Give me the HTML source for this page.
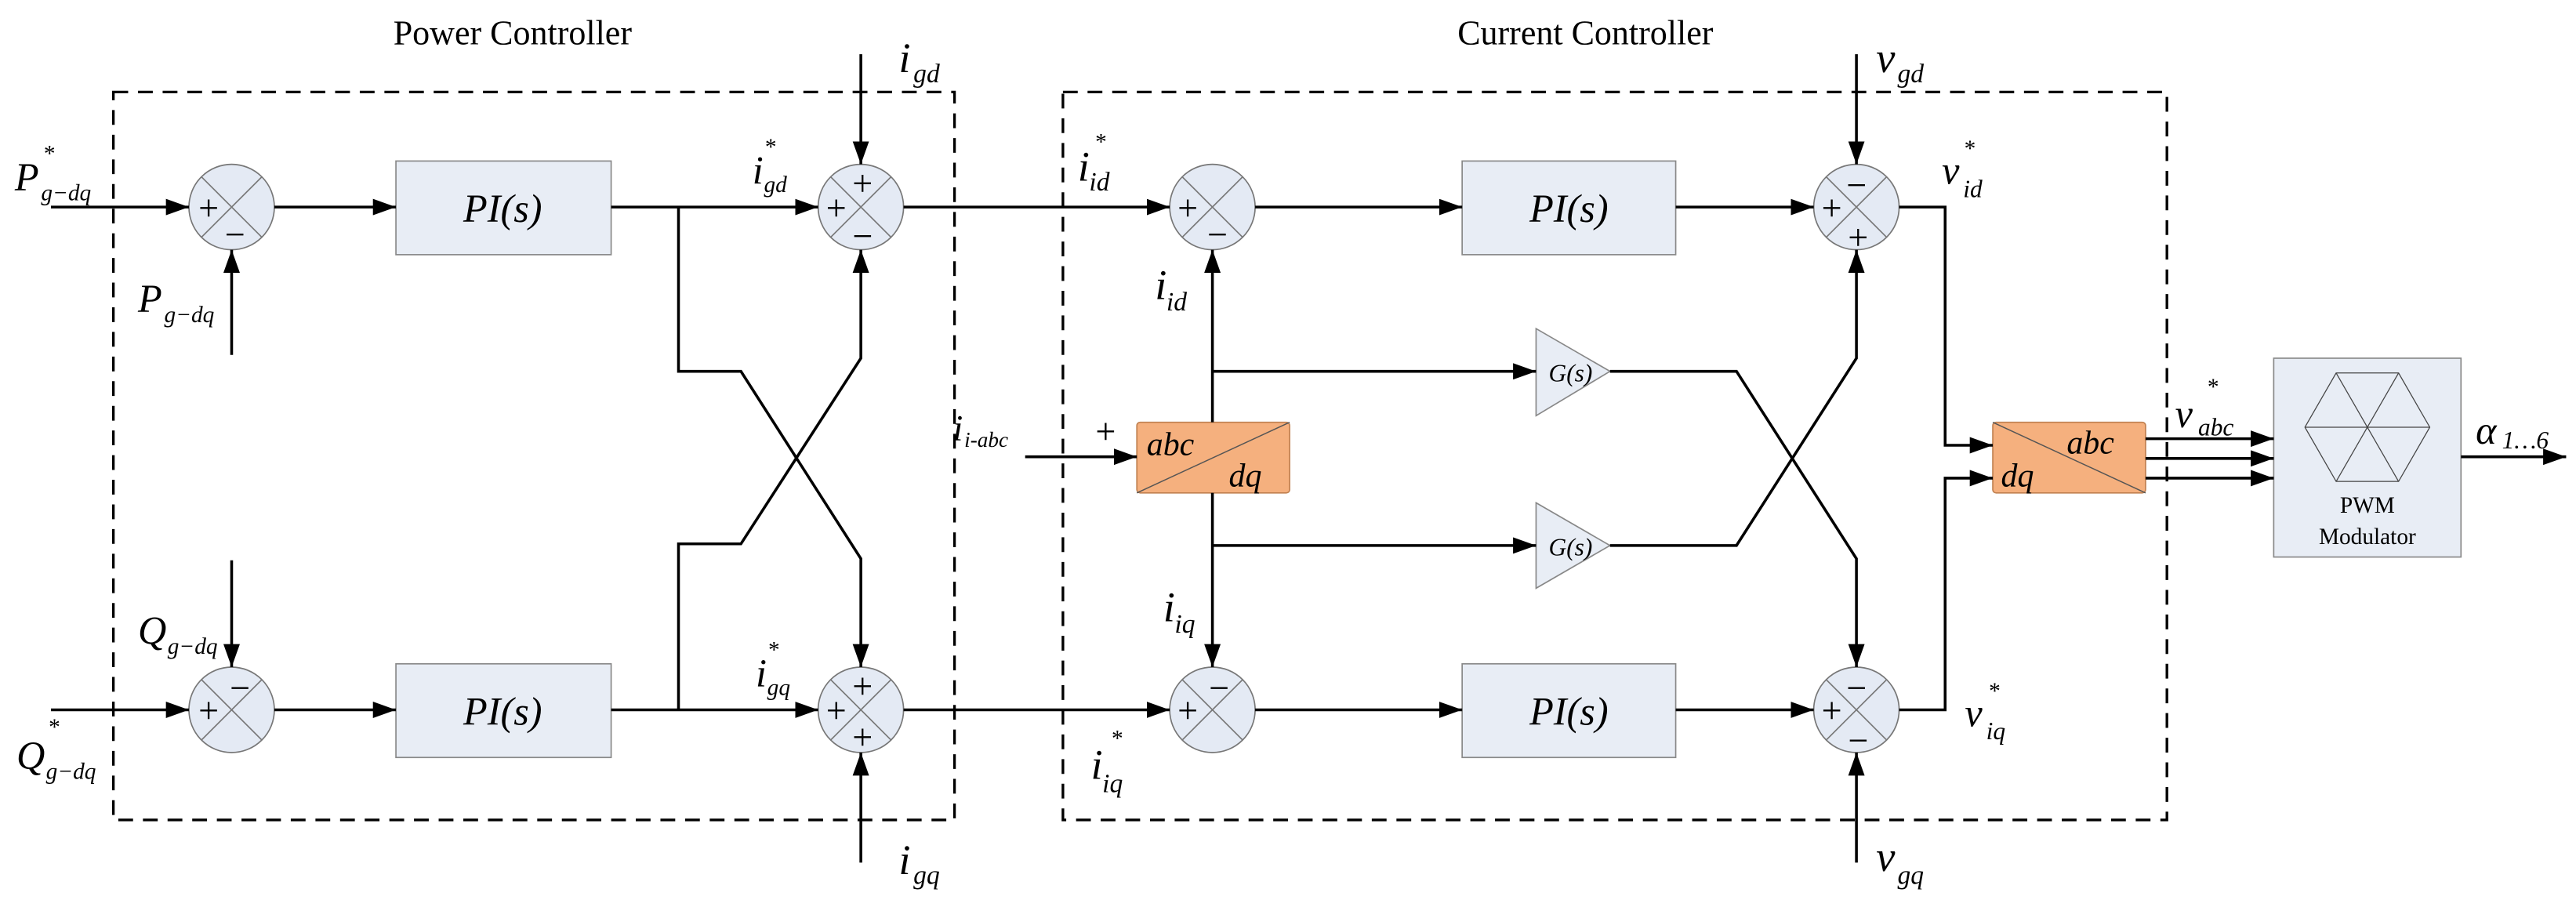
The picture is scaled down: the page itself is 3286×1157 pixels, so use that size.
<!DOCTYPE html>
<html><head><meta charset="utf-8"><style>
html,body{margin:0;padding:0;background:#fff;}
svg{display:block;}
text{font-family:"Liberation Serif",serif;fill:#000;}
.it{font-style:italic;}
</style></head><body>
<svg width="3286" height="1157" viewBox="0 0 1568 552" preserveAspectRatio="none" xmlns="http://www.w3.org/2000/svg">
<defs>
<marker id="a" markerWidth="14" markerHeight="10" refX="14" refY="5" orient="auto" markerUnits="userSpaceOnUse">
<path d="M0,0 L14,5 L0,10 Z" fill="#000"/></marker>
<g id="sum">
<circle r="26" fill="#e4eaf4" stroke="#777" stroke-width="0.8"/>
<line x1="-18.4" y1="-18.4" x2="18.4" y2="18.4" stroke="#777" stroke-width="0.8"/>
<line x1="-18.4" y1="18.4" x2="18.4" y2="-18.4" stroke="#777" stroke-width="0.8"/>
</g>
</defs>
<g fill="none" stroke="#000" stroke-width="1.6" stroke-dasharray="9,6">
<rect x="69" y="56" width="512" height="443"/>
<rect x="647" y="56" width="672" height="443"/>
</g>
<text x="312" y="27" font-size="21" text-anchor="middle">Power Controller</text>
<text x="965" y="27" font-size="21" text-anchor="middle">Current Controller</text>

<g fill="#e8edf5" stroke="#888" stroke-width="0.8">
<rect x="241" y="98" width="131" height="57"/>
<rect x="241" y="404" width="131" height="57"/>
<rect x="890" y="98" width="130" height="57"/>
<rect x="890" y="404" width="130" height="57"/>
<rect x="1384" y="218" width="114" height="121"/>
<path d="M935,200 L980,226 L935,253 Z"/>
<path d="M935,306 L980,332 L935,358 Z"/>
</g>
<g font-size="24" class="it" text-anchor="middle">
<text x="306" y="135" class="it">PI(s)</text>
<text x="306" y="441" class="it">PI(s)</text>
<text x="955" y="135" class="it">PI(s)</text>
<text x="955" y="441" class="it">PI(s)</text>
</g>
<text x="956" y="232" font-size="15" class="it" text-anchor="middle">G(s)</text>
<text x="956" y="338" font-size="15" class="it" text-anchor="middle">G(s)</text>

<g fill="#f5b07e" stroke="#c08050" stroke-width="0.8">
<rect x="692" y="257" width="93" height="43" rx="2"/>
<rect x="1213" y="257" width="93" height="43" rx="2"/>
</g>
<line x1="692" y1="300" x2="785" y2="257" stroke="#555" stroke-width="0.7"/>
<line x1="1213" y1="257" x2="1306" y2="300" stroke="#555" stroke-width="0.7"/>
<text x="698" y="277" font-size="20" class="it">abc</text>
<text x="748" y="296" font-size="20" class="it">dq</text>
<text x="1258" y="276" font-size="20" class="it">abc</text>
<text x="1218" y="296" font-size="20" class="it">dq</text>

<g stroke="#444" stroke-width="0.6" fill="none">
<path d="M1403,260 L1422,227 L1460,227 L1479,260 L1460,293 L1422,293 Z"/>
<line x1="1403" y1="260" x2="1479" y2="260"/>
<line x1="1422" y1="227" x2="1460" y2="293"/>
<line x1="1460" y1="227" x2="1422" y2="293"/>
</g>
<text x="1441" y="312" font-size="14" text-anchor="middle">PWM</text>
<text x="1441" y="331" font-size="14" text-anchor="middle">Modulator</text>

<use href="#sum" x="141" y="126"/>
<use href="#sum" x="141" y="432"/>
<use href="#sum" x="524" y="126"/>
<use href="#sum" x="524" y="432"/>
<use href="#sum" x="738" y="126"/>
<use href="#sum" x="738" y="432"/>
<use href="#sum" x="1130" y="126"/>
<use href="#sum" x="1130" y="432"/>
<g font-size="22" text-anchor="middle" font-family="Liberation Sans">
<text x="127" y="134">+</text><text x="143" y="150">−</text>
<text x="127" y="440">+</text><text x="146" y="426">−</text>
<text x="509" y="134">+</text><text x="525" y="119">+</text><text x="525" y="151">−</text>
<text x="509" y="440">+</text><text x="525" y="425">+</text><text x="525" y="456">+</text>
<text x="723" y="134">+</text><text x="741" y="150">−</text>
<text x="723" y="440">+</text><text x="742" y="426">−</text>
<text x="1115" y="134">+</text><text x="1130" y="120">−</text><text x="1131" y="152">+</text>
<text x="1115" y="440">+</text><text x="1130" y="426">−</text><text x="1131" y="458">−</text>
<text x="673" y="270">+</text>
</g>

<g stroke="#000" stroke-width="1.7" fill="none">
<line x1="31" y1="126" x2="115" y2="126" marker-end="url(#a)"/>
<line x1="167" y1="126" x2="241" y2="126" marker-end="url(#a)"/>
<line x1="141" y1="216" x2="141" y2="152" marker-end="url(#a)"/>
<line x1="31" y1="432" x2="115" y2="432" marker-end="url(#a)"/>
<line x1="167" y1="432" x2="241" y2="432" marker-end="url(#a)"/>
<line x1="141" y1="341" x2="141" y2="406" marker-end="url(#a)"/>
<line x1="372" y1="126" x2="498" y2="126" marker-end="url(#a)"/>
<line x1="372" y1="432" x2="498" y2="432" marker-end="url(#a)"/>
<polyline points="413,126 413,226 451,226 524,340 524,406" marker-end="url(#a)"/>
<polyline points="413,432 413,331 451,331 524,218 524,152" marker-end="url(#a)"/>
<line x1="524" y1="33" x2="524" y2="100" marker-end="url(#a)"/>
<line x1="524" y1="525" x2="524" y2="458" marker-end="url(#a)"/>
<line x1="550" y1="126" x2="712" y2="126" marker-end="url(#a)"/>
<line x1="550" y1="432" x2="712" y2="432" marker-end="url(#a)"/>
<line x1="764" y1="126" x2="890" y2="126" marker-end="url(#a)"/>
<line x1="764" y1="432" x2="890" y2="432" marker-end="url(#a)"/>
<line x1="1020" y1="126" x2="1104" y2="126" marker-end="url(#a)"/>
<line x1="1020" y1="432" x2="1104" y2="432" marker-end="url(#a)"/>
<line x1="624" y1="278" x2="692" y2="278" marker-end="url(#a)"/>
<line x1="738" y1="257" x2="738" y2="152" marker-end="url(#a)"/>
<line x1="738" y1="300" x2="738" y2="406" marker-end="url(#a)"/>
<line x1="738" y1="226" x2="935" y2="226" marker-end="url(#a)"/>
<line x1="738" y1="332" x2="935" y2="332" marker-end="url(#a)"/>
<polyline points="980,226 1057,226 1130,340 1130,406" marker-end="url(#a)"/>
<polyline points="980,332 1057,332 1130,218 1130,152" marker-end="url(#a)"/>
<line x1="1130" y1="33" x2="1130" y2="100" marker-end="url(#a)"/>
<line x1="1130" y1="525" x2="1130" y2="458" marker-end="url(#a)"/>
<polyline points="1156,126 1184,126 1184,271 1213,271" marker-end="url(#a)"/>
<polyline points="1156,432 1184,432 1184,291 1213,291" marker-end="url(#a)"/>
<line x1="1306" y1="267" x2="1384" y2="267" marker-end="url(#a)"/>
<line x1="1306" y1="279" x2="1384" y2="279" marker-end="url(#a)"/>
<line x1="1306" y1="291" x2="1384" y2="291" marker-end="url(#a)"/>
<line x1="1498" y1="278" x2="1562" y2="278" marker-end="url(#a)"/>
</g>

<g class="it">
<text x="9" y="116" font-size="24" class="it">P</text><text x="25" y="122" font-size="14" class="it">g−dq</text><text x="26" y="98" font-size="14">*</text>
<text x="84" y="190" font-size="24" class="it">P</text><text x="100" y="196" font-size="14" class="it">g−dq</text>
<text x="84" y="392" font-size="24" class="it">Q</text><text x="102" y="398" font-size="14" class="it">g−dq</text>
<text x="10" y="468" font-size="24" class="it">Q</text><text x="28" y="474" font-size="14" class="it">g−dq</text><text x="29" y="447" font-size="14">*</text>
<text x="458" y="112" font-size="24" class="it">i</text><text x="465" y="117" font-size="14" class="it">gd</text><text x="465" y="94" font-size="14">*</text>
<text x="460" y="418" font-size="24" class="it">i</text><text x="467" y="423" font-size="14" class="it">gq</text><text x="467" y="400" font-size="14">*</text>
<text x="547" y="44" font-size="26" class="it">i</text><text x="556" y="50" font-size="16" class="it">gd</text>
<text x="547" y="532" font-size="26" class="it">i</text><text x="556" y="538" font-size="16" class="it">gq</text>
<text x="580" y="268" font-size="22" class="it">i</text><text x="587" y="272" font-size="13" class="it">i-abc</text>
<text x="656" y="110" font-size="26" class="it">i</text><text x="663" y="116" font-size="16" class="it">id</text><text x="666" y="91" font-size="14">*</text>
<text x="703" y="182" font-size="26" class="it">i</text><text x="710" y="189" font-size="16" class="it">id</text>
<text x="708" y="378" font-size="26" class="it">i</text><text x="715" y="385" font-size="16" class="it">iq</text>
<text x="664" y="474" font-size="26" class="it">i</text><text x="671" y="482" font-size="16" class="it">iq</text><text x="676" y="454" font-size="14">*</text>
<text x="1142" y="44" font-size="26" class="it">v</text><text x="1155" y="50" font-size="16" class="it">gd</text>
<text x="1142" y="530" font-size="26" class="it">v</text><text x="1155" y="538" font-size="16" class="it">gq</text>
<text x="1182" y="112" font-size="24" class="it">v</text><text x="1195" y="120" font-size="15" class="it">id</text><text x="1195" y="95" font-size="14">*</text>
<text x="1196" y="442" font-size="24" class="it">v</text><text x="1209" y="450" font-size="15" class="it">iq</text><text x="1210" y="425" font-size="14">*</text>
<text x="1324" y="260" font-size="24" class="it">v</text><text x="1338" y="265" font-size="15" class="it">abc</text><text x="1343" y="240" font-size="14">*</text>
<text x="1507" y="270" font-size="24" class="it">α</text><text x="1523" y="273" font-size="15" class="it">1…6</text>
</g>
</svg>
</body></html>
